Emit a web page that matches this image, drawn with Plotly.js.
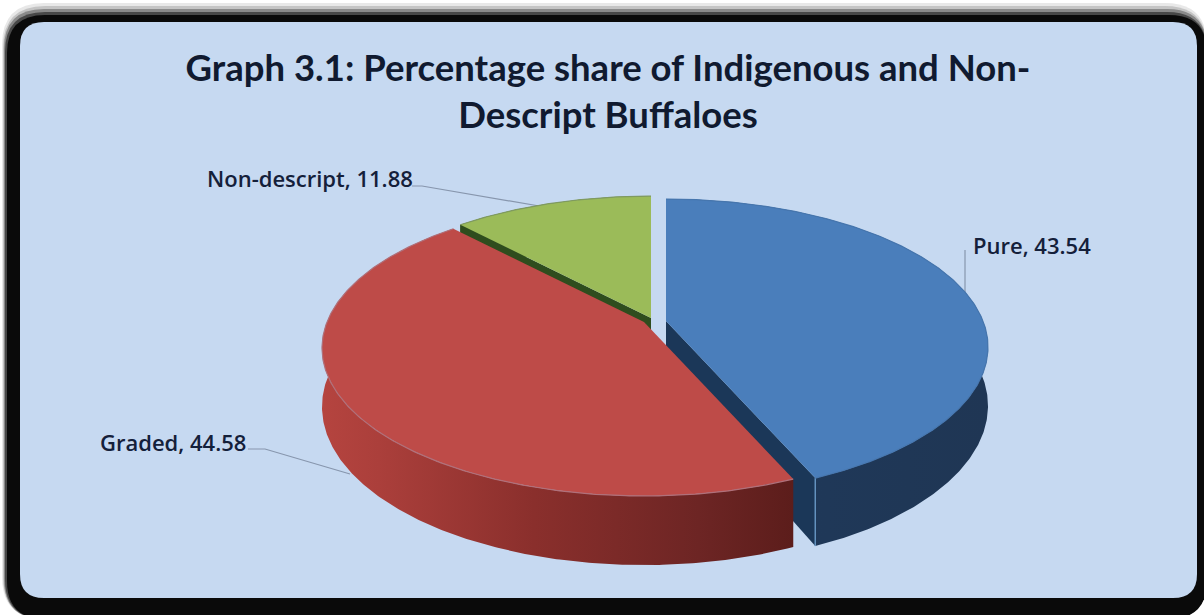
<!DOCTYPE html>
<html>
<head>
<meta charset="utf-8">
<script src="https://cdn.plot.ly/plotly-3.0.1.min.js"></script>
<style>html,body{margin:0;padding:0;background:#fff}#chart{width:1204px;height:615px}</style>
</head>
<body>
<div id="chart"></div>
<script>
// ---- data ----
const categories = ['Pure', 'Graded', 'Non-descript'];
const shares = [43.54, 44.58, 11.88];
const chartTitle = 'Graph 3.1: Percentage share of Indigenous and Non-<br>Descript Buffaloes';

// ---- style / projection ----
const radiusX = 317, radiusY = 143.4, tilt = 0.1757, depth = 57;
const apexes = [[666, 321], [644, 322], [651, 318]];
const faceColors = ['#4a7ebb', '#be4b48', '#9bbb59'];
const cutColors = ['#1b3758', '#7a2a28', '#2f4d1e'];
const wallScales = [
  [[0, '#1f3a5c'], [1, '#1f3654']],
  [[0, '#b5443f'], [0.12, '#ab3f3b'], [0.45, '#8a2f2c'], [0.8, '#6d2524'], [1, '#5c1d1b']],
  [[0, '#2f4d1e'], [1, '#2f4d1e']]
];
const rimColors = ['#4676ae', '#b0707a', '#7f9a60'];
const drawOrder = [2, 0, 1];
const labelPositions = [[971, 245], [98, 442], [205, 178]];

// turn values into angles (clockwise from 12 o'clock)
const total = shares.reduce((a, b) => a + b, 0);
const sliceAngles = [];
shares.reduce((start, v) => {
  const end = start + v / total * 360;
  sliceAngles.push([start, end]);
  return end;
}, 0);

function project(apex, deg, r, drop) {
  const t = deg * Math.PI / 180;
  const u = r * Math.sin(t), v = -r * Math.cos(t);
  const w = 1 - tilt * v;
  return [apex[0] + radiusX * u / w, apex[1] + radiusY * v / w + drop / w];
}
function arc(apex, a0, a1, drop) {
  const pts = [];
  const n = Math.ceil(Math.abs(a1 - a0) * 2);
  for (let i = 0; i <= n; i++) pts.push(project(apex, a0 + (a1 - a0) * i / n, 1, drop));
  return pts;
}
function poly(pts, extra) {
  return Object.assign({
    x: pts.map(p => p[0]), y: pts.map(p => p[1]),
    type: 'scatter', mode: 'lines', fill: 'toself',
    line: {width: 0}, hoverinfo: 'skip', showlegend: false
  }, extra);
}
function facesViewer(deg) {
  return -Math.cos(deg * Math.PI / 180) > 0;
}

const traces = [];
drawOrder.forEach(i => {
  const apex = apexes[i], a0 = sliceAngles[i][0], a1 = sliceAngles[i][1];
  const name = categories[i];
  // cut faces that turn toward the viewer
  [[a0, a0 - 90], [a1, a1 + 90]].forEach(c => {
    if (facesViewer(c[1])) {
      const rim = project(apex, c[0], 1, 0), low = project(apex, c[0], 1, depth);
      const apexLow = [apex[0], apex[1] + depth];
      traces.push(poly([apex, rim, low, apexLow, apex], {fillcolor: cutColors[i], name: name}));
    }
  });
  // outer wall
  const top = arc(apex, a0, a1, 0), bottom = arc(apex, a0, a1, depth).reverse();
  traces.push(poly(top.concat(bottom, [top[0]]), {
    name: name,
    fillcolor: wallScales[i][0][1],
    fillgradient: {type: 'horizontal', colorscale: wallScales[i]}
  }));
  // light corner edge at the wall end
  const edge = [project(apex, a1, 1, 0), project(apex, a1, 1, depth)];
  if (facesViewer(a1 + 90)) {
    traces.push({x: edge.map(p => p[0]), y: edge.map(p => p[1]), type: 'scatter', mode: 'lines',
      line: {color: '#6492bf', width: 1.5}, hoverinfo: 'skip', showlegend: false});
  }
  // top face
  traces.push(poly([apex].concat(top, [apex]), {fillcolor: faceColors[i], name: name}));
  // rim highlight
  traces.push({x: top.map(p => p[0]), y: top.map(p => p[1]), type: 'scatter', mode: 'lines',
    line: {color: rimColors[i], width: 1.2}, hoverinfo: 'skip', showlegend: false});
});

// rounded frame
function rounded(x0, y0, x1, y1, r) {
  return `M${x0 + r},${y0} L${x1 - r},${y0} Q${x1},${y0} ${x1},${y0 + r} L${x1},${y1 - r} Q${x1},${y1} ${x1 - r},${y1} ` +
         `L${x0 + r},${y1} Q${x0},${y1} ${x0},${y1 - r} L${x0},${y0 + r} Q${x0},${y0} ${x0 + r},${y0} Z`;
}
function frame(x0, y0, x1, y1, r, fill) {
  return {type: 'path', xref: 'x', yref: 'y', layer: 'below', path: rounded(x0, y0, x1, y1, r),
          fillcolor: fill, line: {width: 0}};
}
function leader(pts) {
  return {type: 'path', xref: 'x', yref: 'y', layer: 'below',
          path: 'M' + pts.map(p => p.join(',')).join(' L'), line: {color: '#8796ad', width: 1.2}};
}
const shapes = [
  frame(2, 3, 1207, 619, 42, '#e8e8e8'),
  frame(3, 6, 1207, 619, 42, '#c4c4c4'),
  frame(4, 9, 1207, 619, 40, '#8a8a8a'),
  frame(5, 12, 1207, 619, 40, '#484848'),
  frame(7, 15, 1207, 619, 38, '#0a0a0a'),
  frame(20, 22, 1197, 598, 24, '#c6d9f1'),
  leader([[412, 186], [422, 186], [545, 207]]),
  leader([[248, 449], [265, 449], [350, 474]]),
  leader([[965, 250], [965, 292]])
];

const annotations = categories.map((c, i) => ({
  x: labelPositions[i][0], y: labelPositions[i][1], xref: 'x', yref: 'y',
  xanchor: 'left', yanchor: 'middle', showarrow: false,
  text: c + ', ' + shares[i].toFixed(2),
  font: {family: '"Open Sans", sans-serif', size: 22, color: '#14203a', weight: 600}
}));

const layout = {
  width: 1204, height: 615,
  margin: {l: 0, r: 0, t: 0, b: 0},
  paper_bgcolor: '#ffffff', plot_bgcolor: 'rgba(0,0,0,0)',
  showlegend: false, hovermode: false,
  title: {
    text: chartTitle,
    x: 608 / 1204, xref: 'paper', xanchor: 'center',
    y: 1 - 81 / 615, yref: 'paper', yanchor: 'middle',
    font: {family: 'Lato, sans-serif', size: 36.5, color: '#101a30', weight: 700}
  },
  xaxis: {range: [0, 1204], visible: false, fixedrange: true},
  yaxis: {range: [615, 0], visible: false, fixedrange: true},
  shapes: shapes,
  annotations: annotations
};
Plotly.newPlot('chart', traces, layout, {displayModeBar: false, staticPlot: true});
</script>
</body>
</html>
